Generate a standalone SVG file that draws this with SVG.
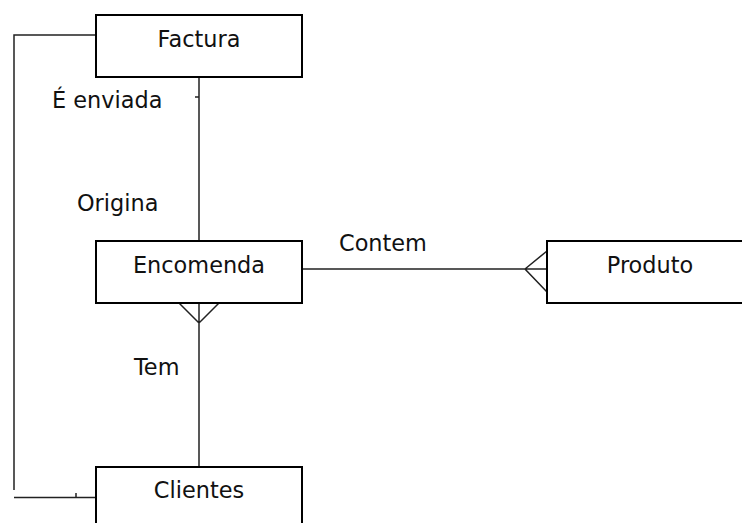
<svg xmlns="http://www.w3.org/2000/svg" width="742" height="523" viewBox="0 0 742 523">
<style>
.box{fill:#fff;stroke:#000;stroke-width:2}
.ln{fill:none;stroke:#222;stroke-width:1.5}
text{font-family:"DejaVu Sans",sans-serif;font-size:22.4px;fill:#111}
</style>
<rect width="742" height="523" fill="#fff"/>
<g id="connectors">
<path class="ln" d="M96,35 H14 V490"/>
<path class="ln" d="M14,497.5 H96 M76,493 V498"/>
<path class="ln" d="M199,77 V241 M195,97 H199"/>
<path class="ln" d="M199,303 V467 M179,303 L199,323 L219,303"/>
<path class="ln" d="M302,269 H547 M547,251 L525,269 L547,292"/>
<text x="52" y="108">É enviada</text>
<text x="77" y="211">Origina</text>
<text x="339" y="251">Contem</text>
<text x="134" y="375">Tem</text>
</g>
<g id="factura"><rect class="box" x="96" y="15" width="206" height="62"/><text x="199" y="47" text-anchor="middle">Factura</text></g>
<g id="encomenda"><rect class="box" x="96" y="241" width="206" height="62"/><text x="199" y="273" text-anchor="middle">Encomenda</text></g>
<g id="produto"><rect class="box" x="547" y="241" width="206" height="62"/><text x="650" y="273" text-anchor="middle">Produto</text></g>
<g id="clientes"><rect class="box" x="96" y="467" width="206" height="62"/><text x="199" y="498" text-anchor="middle">Clientes</text></g>
</svg>
